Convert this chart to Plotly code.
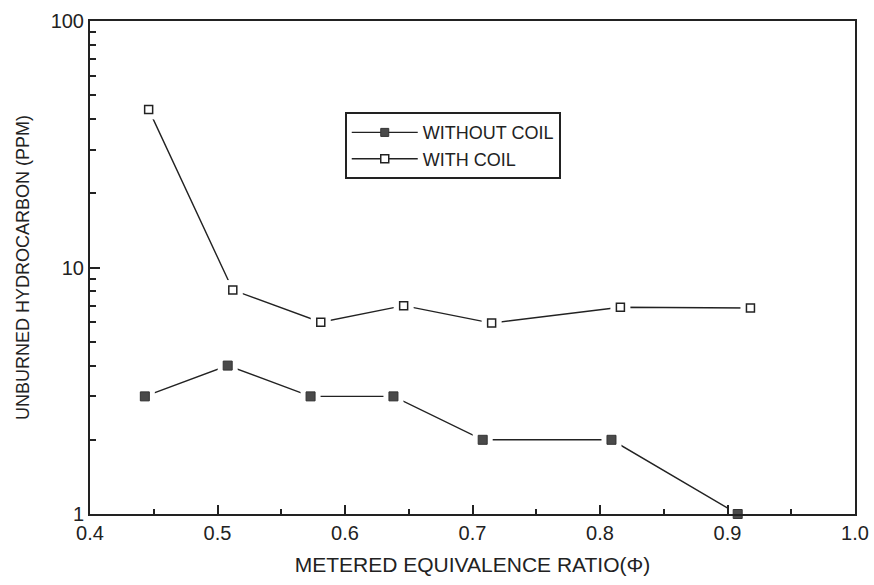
import plotly.graph_objects as go

# Data
x_without = [0.443, 0.508, 0.573, 0.638, 0.708, 0.809, 0.908]
y_without = [3.0, 4.0, 3.0, 3.0, 2.0, 2.0, 1.0]
x_with = [0.446, 0.512, 0.581, 0.646, 0.715, 0.816, 0.918]
y_with = [43.8, 8.1, 6.0, 7.0, 5.95, 6.9, 6.85]

x_ticks = [0.4, 0.5, 0.6, 0.7, 0.8, 0.9, 1.0]
x_tick_text = ["0.4", "0.5", "0.6", "0.7", "0.8", "0.9", "1.0"]
x_minor = [0.45, 0.55, 0.65, 0.75, 0.85, 0.95]
y_ticks = [1, 10, 100]
y_tick_text = ["1", "10", "100"]
y_minor = [2, 3, 4, 5, 6, 7, 8, 9, 20, 30, 40, 50, 60, 70, 80, 90]

FONT = "Liberation Sans, Arial, sans-serif"
INK = "#222"

fig = go.Figure()

# line traces with legend
fig.add_trace(go.Scatter(
    x=x_without, y=y_without, mode="lines+markers", name="WITHOUT COIL",
    line=dict(color=INK, width=1.4),
    marker=dict(symbol="square", size=8, color="#4a4a4a", line=dict(color="#333", width=1)),
    cliponaxis=False))
fig.add_trace(go.Scatter(
    x=x_with, y=y_with, mode="lines+markers", name="WITH COIL",
    line=dict(color=INK, width=1.4),
    marker=dict(symbol="square", size=8, color="white", line=dict(color=INK, width=1.5)),
    cliponaxis=False))

# white halos to create gaps between lines and markers
for xs, ys in [(x_without, y_without), (x_with, y_with)]:
    fig.add_trace(go.Scatter(
        x=xs, y=ys, mode="markers", showlegend=False, hoverinfo="skip",
        marker=dict(symbol="square", size=20, color="white", line=dict(width=0)),
        cliponaxis=False))

fig.add_trace(go.Scatter(
    x=x_without, y=y_without, mode="markers", showlegend=False,
    marker=dict(symbol="square", size=9, color="#4a4a4a", line=dict(color="#333", width=1)),
    cliponaxis=False))
fig.add_trace(go.Scatter(
    x=x_with, y=y_with, mode="markers", showlegend=False,
    marker=dict(symbol="square", size=8, color="white", line=dict(color=INK, width=1.5)),
    cliponaxis=False))

fig.update_layout(
    width=874, height=585,
    margin=dict(l=90, r=19, t=21, b=71),
    paper_bgcolor="white", plot_bgcolor="white",
    font=dict(family=FONT, color=INK, size=16),
    showlegend=True,
    legend=dict(
        x=0.333, y=0.815, xanchor="left", yanchor="top",
        bordercolor=INK, borderwidth=2, bgcolor="white",
        font=dict(size=18, family=FONT), tracegroupgap=0,
        itemwidth=66,
    ),
    xaxis=dict(
        range=[0.4, 1.0], tickvals=x_ticks, ticktext=x_tick_text,
        ticks="inside", ticklen=9, tickwidth=2, tickcolor=INK,
        minor=dict(tickvals=x_minor, ticks="inside", ticklen=5, tickwidth=2, tickcolor=INK),
        showline=True, linecolor=INK, linewidth=2, mirror=True,
        showgrid=False, zeroline=False, automargin=False,
        tickfont=dict(size=20, family=FONT),
        title=dict(text="METERED EQUIVALENCE RATIO(Φ)", font=dict(size=21, family=FONT), standoff=14),
    ),
    yaxis=dict(
        type="log", range=[0, 2], tickvals=y_ticks, ticktext=y_tick_text,
        ticks="inside", ticklen=10, tickwidth=2, tickcolor=INK,
        minor=dict(tickvals=y_minor, ticks="inside", ticklen=6, tickwidth=2, tickcolor=INK),
        showline=True, linecolor=INK, linewidth=2, mirror=True,
        showgrid=False, zeroline=False, automargin=False,
        tickfont=dict(size=20, family=FONT),
        title=dict(text="UNBURNED HYDROCARBON (PPM)", font=dict(size=18, family=FONT), standoff=16),
    ),
)

fig.write_html(
    "out.html",
    config={"displayModeBar": False},
    post_script="document.body.style.margin='0';document.body.style.padding='0';",
)
